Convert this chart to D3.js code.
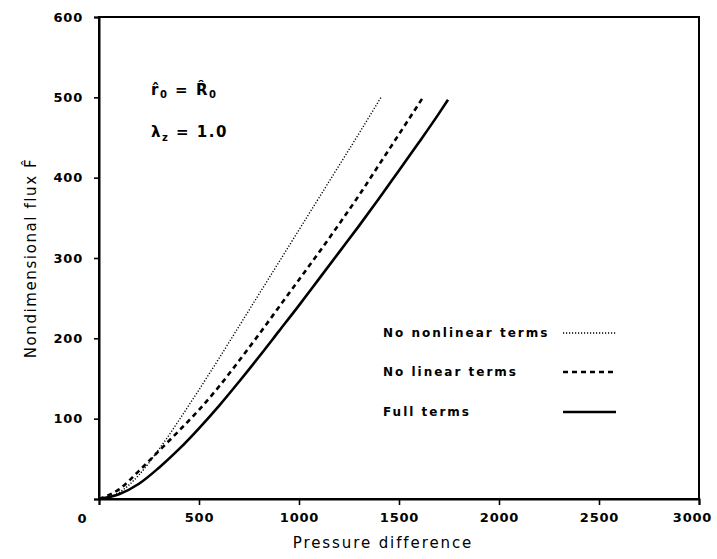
<!DOCTYPE html>
<html>
<head>
<meta charset="utf-8">
<script src="https://cdn.jsdelivr.net/npm/d3@7"></script>
<style>
  html, body { margin: 0; padding: 0; background: #fff; }
  svg { display: block; }
  text { font-family: "DejaVu Sans", sans-serif; fill: #000; }
</style>
</head>
<body>
<svg id="chart" width="717" height="559"></svg>
<script>
// ---- data ----
const xTicks = [0, 500, 1000, 1500, 2000, 2500, 3000];
const yTicks = [0, 100, 200, 300, 400, 500, 600];

const seriesNames = ["No nonlinear terms", "No linear terms", "Full terms"];

// No nonlinear terms (dotted)
const noNonlinear = [
  [0,0],[100,8],[200,30],[300,62],[400,98],[500,136],[600,175],[700,215],
  [800,255],[900,295],[1000,335],[1100,375],[1200,415],[1300,455],[1410,500]
];
// No linear terms (dashed)
const noLinear = [
  [0,0],[100,12],[200,35],[300,60],[400,85],[500,111],[600,140],[700,172],
  [800,205],[900,239],[1000,273],[1100,307],[1200,342],[1300,378],[1400,416],
  [1500,454],[1620,500]
];
// Full terms (solid)
const fullTerms = [
  [0,0],[100,6],[200,19],[300,39],[400,62],[500,88],[600,116],[700,146],
  [800,177],[900,209],[1000,241],[1100,274],[1200,307],[1300,340],[1400,374],
  [1500,409],[1600,444],[1700,480],[1745,497]
];

// ---- layout ----
const svg = d3.select("#chart");
const x = d3.scaleLinear().domain([0, 3000]).range([99, 699]);
const y = d3.scaleLinear().domain([0, 600]).range([499, 17]);

// frame
svg.append("rect")
  .attr("x", x(0)).attr("y", y(600))
  .attr("width", x(3000) - x(0)).attr("height", y(0) - y(600))
  .attr("fill", "none").attr("stroke", "#000").attr("stroke-width", 2);

// axes
const xAxis = svg.append("g")
  .attr("transform", `translate(0,${y(0)})`)
  .call(d3.axisBottom(x).tickValues(xTicks).tickSize(6).tickPadding(8)
    .tickFormat(d => d === 0 ? "" : d));
const yAxis = svg.append("g")
  .attr("transform", `translate(${x(0)},0)`)
  .call(d3.axisLeft(y).tickValues(yTicks).tickSize(5).tickPadding(11)
    .tickFormat(d => d === 0 ? "" : d));

[xAxis, yAxis].forEach(g => {
  g.select(".domain").attr("stroke-width", 2);
  g.selectAll(".tick line").attr("stroke-width", 1.6);
  g.selectAll(".tick text")
    .style("font-family", "'DejaVu Sans', sans-serif")
    .style("font-weight", "bold")
    .style("font-size", "13px")
    .style("letter-spacing", "0.8px");
});
// last x label sits slightly inside the page edge, as in the reference
xAxis.selectAll(".tick text").filter(d => d === 3000).attr("dx", -7);

// shared corner zero
svg.append("text")
  .attr("x", x(0) - 17).attr("y", y(0) + 24)
  .attr("text-anchor", "middle")
  .style("font-weight", "bold").style("font-size", "13px")
  .text("0");

// axis titles
svg.append("text")
  .attr("x", 383).attr("y", 548)
  .attr("text-anchor", "middle")
  .style("font-size", "15px").style("letter-spacing", "1.9px")
  .text("Pressure difference");

svg.append("text")
  .attr("transform", "translate(36,258) rotate(-90)")
  .attr("text-anchor", "middle")
  .style("font-size", "15px").style("letter-spacing", "1.6px")
  .text("Nondimensional flux F\u0302");

// curves
const line = d3.line().x(d => x(d[0])).y(d => y(d[1])).curve(d3.curveMonotoneX);
const styles = [
  { data: noNonlinear, width: 1.4, dash: "1.2,1.8" },
  { data: noLinear,    width: 2.6, dash: "5,4" },
  { data: fullTerms,   width: 2.6, dash: null }
];
styles.forEach(s => {
  svg.append("path")
    .attr("d", line(s.data))
    .attr("fill", "none")
    .attr("stroke", "#000")
    .attr("stroke-width", s.width)
    .attr("stroke-dasharray", s.dash);
});

// legend
const legY = [333, 372, 412];
seriesNames.forEach((name, i) => {
  svg.append("text")
    .attr("x", 383).attr("y", legY[i] + 4)
    .style("font-weight", "bold").style("font-size", "12px")
    .style("letter-spacing", "2px")
    .text(name);
  svg.append("line")
    .attr("x1", 563).attr("x2", 616)
    .attr("y1", legY[i]).attr("y2", legY[i])
    .attr("stroke", "#000")
    .attr("stroke-width", styles[i].width)
    .attr("stroke-dasharray", styles[i].dash);
});

// annotation
const ann1 = svg.append("text").attr("x", 151).attr("y", 95)
  .style("font-weight", "bold").style("font-size", "15px").style("letter-spacing", "1.5px");
ann1.append("tspan").text("r\u0302");
ann1.append("tspan").attr("dy", 3).style("font-size", "10px").text("0");
ann1.append("tspan").attr("dy", -3).text("  =  R\u0302");
ann1.append("tspan").attr("dy", 3).style("font-size", "10px").text("0");

const ann2 = svg.append("text").attr("x", 151).attr("y", 137)
  .style("font-weight", "bold").style("font-size", "15px").style("letter-spacing", "1.5px");
ann2.append("tspan").text("λ");
ann2.append("tspan").attr("dy", 4).style("font-size", "10px").text("z");
ann2.append("tspan").attr("dy", -4).text("  =  1.0");
</script>
</body>
</html>
